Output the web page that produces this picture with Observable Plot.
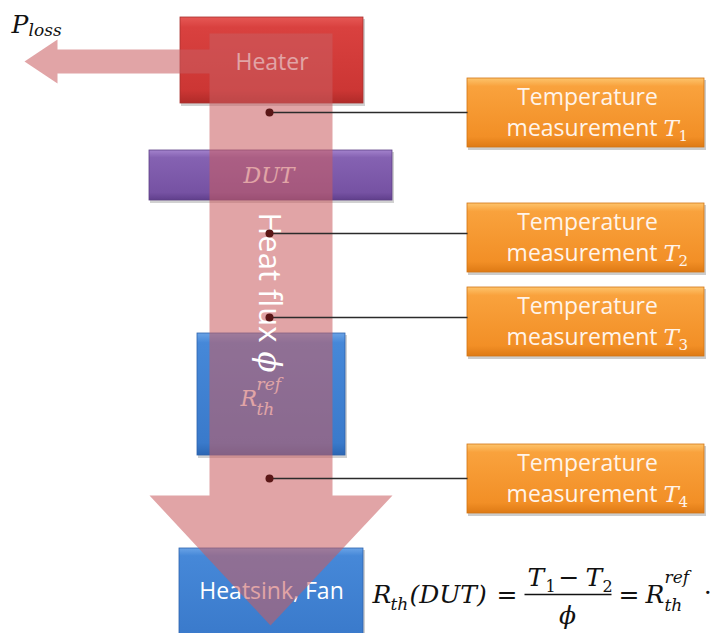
<!DOCTYPE html>
<html><head><meta charset="utf-8">
<script src="https://cdn.jsdelivr.net/npm/d3@7"></script>
<script src="https://cdn.jsdelivr.net/npm/@observablehq/plot@0.6"></script>
<style>html,body{margin:0;padding:0;background:#fff} svg{display:block}</style>
</head><body><div id="chart"></div>
<script>
// ---------- content (text / values) ----------
const blockNames   = ["Heater", "DUT", "Rref", "Heatsink, Fan"];
const blockColors  = ["red", "purple", "blue", "blue"];
const sensorLine1  = ["Temperature", "Temperature", "Temperature", "Temperature"];
const sensorLine2  = ["measurement", "measurement", "measurement", "measurement"];
const sensorIndex  = ["1", "2", "3", "4"];
const flowLabel    = "Heat flux";
const flowSymbol   = "\u03D5";
const lossLabel    = ["P", "loss"];
const formulaItalic = ["R", "th", "(DUT)", "T", "T", "R", "ref", "th"];
const formulaUpright = ["=", "1", "\u2212", "2", "=", "\u22C5"];

// ---------- layout (pixel positions of the diagram) ----------
const blockBox = [
  {x1: 180, x2: 363, y1: 17,  y2: 103},
  {x1: 149, x2: 392, y1: 150, y2: 200},
  {x1: 197, x2: 345, y1: 333, y2: 455},
  {x1: 179, x2: 363, y1: 548, y2: 645}
];
const sensorTop = [78, 203, 287, 444];
const sensorLineY = [112, 233, 317, 478];
const sensorX = [467, 704];
const sensorH = 69;
const probeX = 269;
const arrowPts = [
  [24, 61], [57, 39], [57, 49], [209, 49], [209, 33], [332, 33], [332, 495],
  [392, 495], [270, 625], [149, 495], [209, 495], [209, 73], [57, 73], [57, 83]
];

const blocks = blockNames.map((name, i) => ({name, color: blockColors[i], ...blockBox[i]}));
const sensors = sensorIndex.map((k, i) => ({
  k, l1: sensorLine1[i], l2: sensorLine2[i],
  x1: sensorX[0], x2: sensorX[1], y1: sensorTop[i], y2: sensorTop[i] + sensorH, ly: sensorLineY[i]
}));
const arrow = arrowPts.map(([x, y]) => ({x, y}));

// math text pieces: [text, x, baseline y, size]
const italicPieces = [
  [lossLabel[0], 11, 32, 25], [lossLabel[1], 28, 35, 17],
  ["R", 240, 405, 22], ["ref", 256, 389, 17], ["th", 256, 414, 17],
  [formulaItalic[0], 372, 602, 25], [formulaItalic[1], 390, 609, 17], [formulaItalic[2], 409, 602, 25],
  [formulaItalic[3], 527, 585, 25], [formulaItalic[4], 585, 585, 25],
  [formulaItalic[5], 645, 602, 25], [formulaItalic[6], 664, 582, 17], [formulaItalic[7], 664, 610, 17],
  ...sensors.map(s => ["T", 663, s.y1 + 57, 23])
].map(([t, x, y, s]) => ({t, x, y, s}));
const uprightPieces = [
  [formulaUpright[0], 496, 602, 25], [formulaUpright[1], 545, 591, 16], [formulaUpright[2], 558, 585, 25],
  [formulaUpright[3], 602, 591, 16], [formulaUpright[4], 618, 602, 25], [formulaUpright[5], 703, 600, 25],
  ...sensors.map(s => [s.k, 678, s.y1 + 62, 15])
].map(([t, x, y, s]) => ({t, x, y, s}));

const serif = "DejaVu Serif";
const sans = "Open Sans";

const plot = Plot.plot({
  width: 711, height: 633, margin: 0,
  x: {domain: [0, 711], range: [0, 711], axis: null},
  y: {domain: [0, 633], range: [0, 633], axis: null},
  style: {background: "#fff"},
  marks: [
    // shadows
    Plot.rect(blocks, {x1: d => d.x1 + 1, x2: d => d.x2 + 2, y1: d => d.y1 + 2, y2: d => d.y2 + 3, fill: "#000", fillOpacity: 0.18}),
    Plot.rect(sensors, {x1: d => d.x1 + 1, x2: d => d.x2 + 2, y1: d => d.y1 + 2, y2: d => d.y2 + 3, fill: "#000", fillOpacity: 0.2}),
    // blocks
    ...["red", "purple", "blue"].map(c =>
      Plot.rect(blocks.filter(b => b.color === c), {x1: "x1", x2: "x2", y1: "y1", y2: "y2",
        fill: `url(#g-${c})`, stroke: {red: "#a8302e", purple: "#5e4086", blue: "#2d63ad"}[c], strokeWidth: 0.8})
    ),
    Plot.rect(sensors, {x1: "x1", x2: "x2", y1: "y1", y2: "y2", fill: "url(#g-orange)", stroke: "#d27515", strokeWidth: 0.8}),
    // block labels (under the arrow)
    Plot.text(blocks.filter(b => b.name === "Heater" || b.name === "Heatsink, Fan"), {
      x: d => (d.x1 + d.x2) / 2, y: d => d.name === "Heater" ? 62 : 591, text: "name",
      fill: "#fff", fontSize: 23, fontFamily: sans
    }),
    Plot.text(blocks.filter(b => b.name === "DUT"), {
      x: d => (d.x1 + d.x2) / 2 - 2, y: d => (d.y1 + d.y2) / 2, text: "name",
      fill: "#fff", fontSize: 22, fontFamily: serif, fontStyle: "italic"
    }),
    Plot.text(italicPieces.slice(2, 5), {x: "x", y: "y", text: "t", fontSize: d => d.s, textAnchor: "start", lineAnchor: "bottom",
      fill: "#fff", fontFamily: serif, fontStyle: "italic"}),
    // heat flux arrow
    Plot.line(arrow, {x: "x", y: "y", curve: "linear-closed", fill: "#c95c60", fillOpacity: 0.56, stroke: "none"}),
    // heat flux label
    Plot.text([flowLabel], {x: 268, y: 212, text: d => d, rotate: 90, textAnchor: "start", fill: "#fff", fontSize: 31, fontFamily: sans}),
    Plot.text([flowSymbol], {x: 268, y: 351, text: d => d, rotate: 90, textAnchor: "start", fill: "#fff", fontSize: 31, fontFamily: serif, fontStyle: "italic"}),
    // probe lines and points
    Plot.link(sensors, {x1: probeX, x2: "x1", y1: "ly", y2: "ly", stroke: "#2b2b2b", strokeWidth: 1.3}),
    Plot.dot(sensors, {x: probeX, y: "ly", r: 4, fill: "#5a1717", stroke: "none"}),
    // sensor labels
    Plot.text(sensors, {x: 587, y: d => d.y1 + 26, text: "l1", fill: "#fff4ea", fontSize: 23, fontFamily: sans, lineAnchor: "bottom"}),
    Plot.text(sensors, {x: 657, y: d => d.y1 + 57, text: "l2", fill: "#fff4ea", fontSize: 23, fontFamily: sans, lineAnchor: "bottom", textAnchor: "end"}),
    Plot.text(italicPieces.slice(13), {x: "x", y: "y", text: "t", fontSize: d => d.s, textAnchor: "start", lineAnchor: "bottom",
      fill: "#fff4ea", fontFamily: serif, fontStyle: "italic"}),
    Plot.text(uprightPieces.slice(6), {x: "x", y: "y", text: "t", fontSize: d => d.s, textAnchor: "start", lineAnchor: "bottom",
      fill: "#fff4ea", fontFamily: serif}),
    // P_loss and formula
    Plot.text(italicPieces.slice(0, 2).concat(italicPieces.slice(5, 13)), {x: "x", y: "y", text: "t", fontSize: d => d.s,
      textAnchor: "start", lineAnchor: "bottom", fill: "#111", fontFamily: serif, fontStyle: "italic"}),
    Plot.text(uprightPieces.slice(0, 6), {x: "x", y: "y", text: "t", fontSize: d => d.s,
      textAnchor: "start", lineAnchor: "bottom", fill: "#111", fontFamily: serif}),
    Plot.text([flowSymbol], {x: 567, y: 623, text: d => d, fontSize: 25, lineAnchor: "bottom", fill: "#111", fontFamily: serif, fontStyle: "italic"}),
    Plot.link([{a: 524, b: 611}], {x1: "a", x2: "b", y1: 594, y2: 594, stroke: "#111", strokeWidth: 1.4})
  ]
});

const defs = `<defs>
<linearGradient id="g-red" x1="0" y1="0" x2="0" y2="1">
 <stop offset="0" stop-color="#e65855"/><stop offset="0.12" stop-color="#d9413f"/><stop offset="0.85" stop-color="#cc3634"/><stop offset="1" stop-color="#b02b29"/></linearGradient>
<linearGradient id="g-purple" x1="0" y1="0" x2="0" y2="1">
 <stop offset="0" stop-color="#a382cc"/><stop offset="0.15" stop-color="#8562b2"/><stop offset="0.85" stop-color="#7652a3"/><stop offset="1" stop-color="#603f8c"/></linearGradient>
<linearGradient id="g-blue" x1="0" y1="0" x2="0" y2="1">
 <stop offset="0" stop-color="#6aa3e6"/><stop offset="0.08" stop-color="#4688d8"/><stop offset="0.9" stop-color="#3a7acb"/><stop offset="1" stop-color="#2c67b4"/></linearGradient>
<linearGradient id="g-orange" x1="0" y1="0" x2="0" y2="1">
 <stop offset="0" stop-color="#fdc46c"/><stop offset="0.12" stop-color="#f9a23d"/><stop offset="0.85" stop-color="#f28f26"/><stop offset="1" stop-color="#de7a15"/></linearGradient>
</defs>`;
plot.insertAdjacentHTML("afterbegin", defs);
document.getElementById("chart").appendChild(plot);
</script>
</body></html>
